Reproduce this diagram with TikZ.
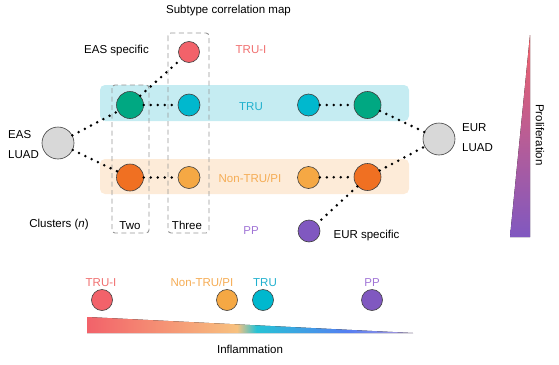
\documentclass[tikz,border=0pt]{standalone}
\usepackage{fontspec}
\setmainfont{Liberation Sans}
\definecolor{truired}{RGB}{242,98,106}
\definecolor{truigreen}{RGB}{0,168,130}
\definecolor{trucyan}{RGB}{0,184,206}
\definecolor{pidark}{RGB}{240,112,34}
\definecolor{pilight}{RGB}{245,168,68}
\definecolor{pppurple}{RGB}{128,88,192}
\definecolor{luadgrey}{RGB}{216,216,216}
\definecolor{bandcyan}{RGB}{197,236,242}
\definecolor{bandorange}{RGB}{253,235,216}
\definecolor{lblred}{RGB}{240,112,112}
\definecolor{lblcyan}{RGB}{32,176,206}
\definecolor{lblorange}{RGB}{245,172,84}
\definecolor{lblpurple}{RGB}{160,116,214}
\definecolor{boxgrey}{RGB}{150,150,150}
\pgfdeclarehorizontalshading{inflam}{100bp}{color(0bp)=(truired);
  color(25bp)=(truired); color(48bp)=(lblorange!75!white);
  color(51bp)=(trucyan!85!white); color(65bp)=(lblcyan!40!blue!70!white);
  color(75bp)=(pppurple!60!white); color(100bp)=(pppurple!60!white)}
\tikzset{
  dotline/.style={line width=2.8pt,dash pattern=on 0pt off 7pt,line cap=round},
  clusterbox/.style={draw=boxgrey,line width=.9pt,dash pattern=on 5pt off 3.5pt,rounded corners=3pt},
}
\begin{document}
\begin{tikzpicture}[x=1pt,y=-1pt,font=\fontsize{11.5}{13}\selectfont]
      \useasboundingbox (0,0) rectangle (559,364);

      % bands and cluster boxes
      \fill[bandcyan,rounded corners=5pt] (100,85) rectangle (409,121);
      \fill[bandorange,rounded corners=5pt] (100,159) rectangle (409,194);
      \draw[clusterbox] (112,85) rectangle (149,233);
      \draw[clusterbox] (168,33) rectangle (209,233);

      \begin{scope}[every node/.style={circle,draw=black!75,line width=.6pt,inner sep=0pt}]
        \node[fill=luadgrey,minimum size=32pt] (1)  at (58,143) {};
        \node[fill=truigreen,minimum size=27pt] (2)  at (130,105) {};
        \node[fill=pidark,minimum size=27pt] (3)  at (130,177.5) {};
        \node[fill=truired,minimum size=21pt] (4)  at (189,52) {};
        \node[fill=trucyan,minimum size=22pt] (5)  at (189,105) {};
        \node[fill=pilight,minimum size=22pt] (6)  at (189,177.5) {};
        \node[fill=trucyan,minimum size=22pt] (7)  at (308.5,105) {};
        \node[fill=pilight,minimum size=22pt] (8)  at (308.5,177.5) {};
        \node[fill=truigreen,minimum size=27pt] (9)  at (367.5,105) {};
        \node[fill=pidark,minimum size=27pt] (10) at (367.5,177) {};
        \node[fill=pppurple,minimum size=22pt] (11) at (309,231) {};
        \node[fill=luadgrey,minimum size=32pt] (12) at (439,139) {};
        \node[fill=truired,minimum size=21pt] (13) at (102,300) {};
        \node[fill=pilight,minimum size=21pt] (14) at (227,300) {};
        \node[fill=trucyan,minimum size=21pt] (15) at (263,300) {};
        \node[fill=pppurple,minimum size=21pt] (16) at (372,300) {};
      \end{scope}

      \begin{scope}[every edge/.style={draw,dotline}]
        \path (1)  edge (2);
        \path (1)  edge (3);
        \path (2)  edge (4);
        \path (2)  edge (5);
        \path (3)  edge (6);
        \path (7)  edge (9);
        \path (8)  edge (10);
        \path (9)  edge (12);
        \path (10) edge (12);
        \path (10) edge (11);
      \end{scope}

      \begin{scope}[every node/.style={inner sep=0pt,text height=8.2pt,text depth=0pt}]
        \node (t1) at (228.5,9) {Subtype correlation map};
        \node (t2) at (116.5,49) {EAS specific};
        \node[text=lblred] (t3) at (251,49) {TRU-I};
        \node[text=lblcyan] (t4) at (251,106) {TRU};
        \node[text=lblorange] (t5) at (250,178) {Non-TRU/PI};
        \node[text=lblpurple] (t6) at (251,230) {PP};
        \node[anchor=west] (t7) at (8,134) {EAS};
        \node[anchor=west] (t8) at (8,154) {LUAD};
        \node[anchor=west] (t9) at (462,127) {EUR};
        \node[anchor=west] (t10) at (462,147) {LUAD};
        \node (t11) at (59,223) {Clusters (\textit{n})};
        \node (t12) at (130,225) {Two};
        \node (t13) at (187,225) {Three};
        \node (t14) at (366.5,234) {EUR specific};
        \node[text=lblred] (t15) at (101,282) {TRU-I};
        \node[text=lblorange] (t16) at (202,282) {Non-TRU/PI};
        \node[text=lblcyan] (t17) at (265,282) {TRU};
        \node[text=lblpurple] (t18) at (372,282) {PP};
        \node (t19) at (250,349) {Inflammation};
        \node[rotate=-90] (t20) at (540,135) {Proliferation};
      \end{scope}

      % gradient wedges
      \fill[top color=truired,bottom color=pppurple] (530,35) -- (530,237) -- (510,237) -- cycle;
      \fill[shading=inflam] (87,317) -- (413,333) -- (87,333) -- cycle;

    \end{tikzpicture}
\end{document}
